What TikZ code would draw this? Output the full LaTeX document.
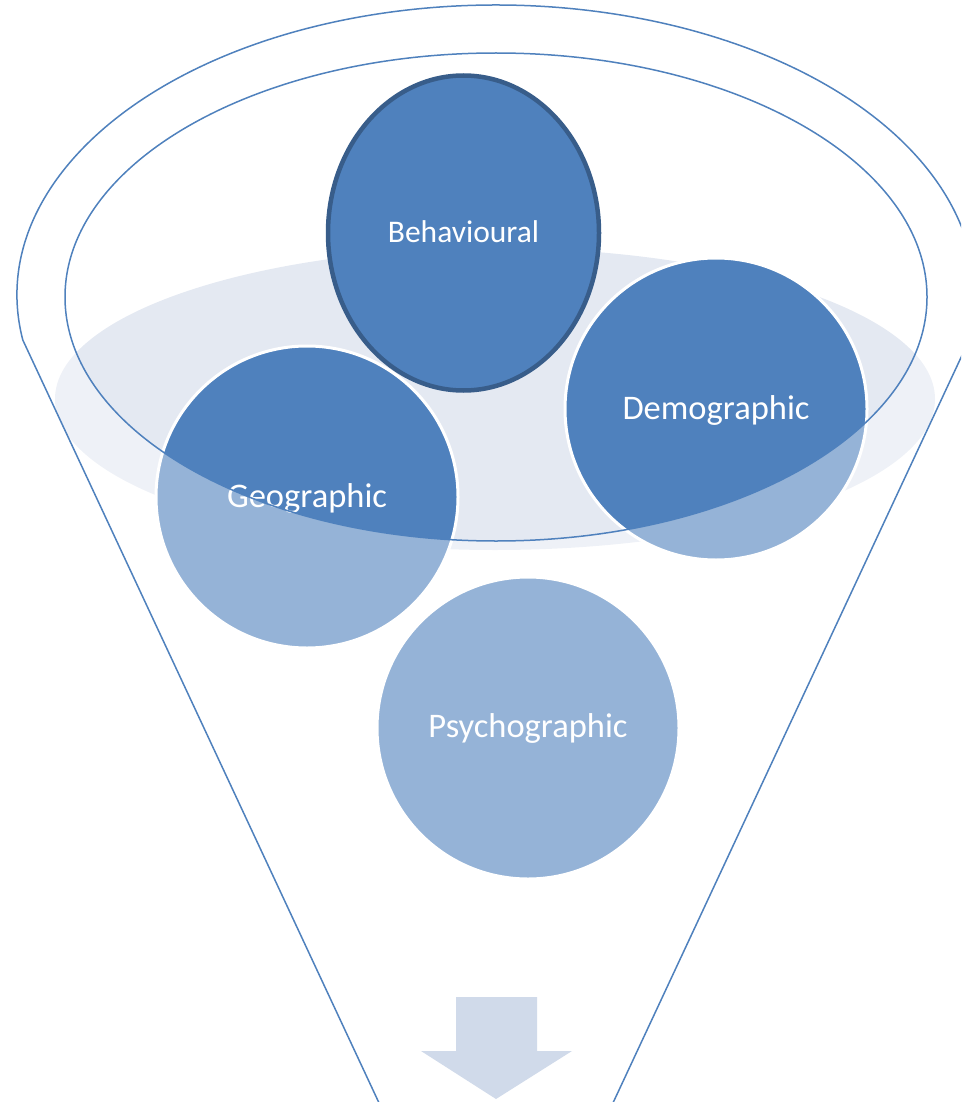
\documentclass[tikz,border=0pt]{standalone}
\usepackage{fontspec}
\setmainfont{Carlito}
\usetikzlibrary{shapes.geometric}
\definecolor{accent}{HTML}{4F81BD}
\definecolor{accentdark}{HTML}{385D8A}
\definecolor{pool}{HTML}{E4E9F2}
\definecolor{arrowfill}{HTML}{D0DAEA}
\begin{document}
\begin{tikzpicture}[x=1pt,y=-1pt,
  segment/.style={circle, fill=accent, draw=white, line width=3pt,
    minimum size=302pt, inner sep=0pt, text=white, text depth=0pt,
    font=\fontsize{34.5}{40}\selectfont},
  outline/.style={draw=accent, line width=1.5pt},
]
\clip (0,0) rectangle (961,1102);

% pale pool inside the funnel
\fill[pool] (495,399) ellipse[x radius=440, y radius=151];

% lower segments
\node[segment, text height=20pt] (geo) at (307,497) {Geographic};
\node[segment, text height=20pt] (demo) at (716,409) {Demographic};
\node[segment, text height=18pt] (psy) at (528,728) {Psychographic};

% everything below the rim is seen paler
\fill[white, fill opacity=0.4, even odd rule]
  (0,0) rectangle (961,1102) (496,297) ellipse[x radius=431, y radius=244];

% top segment
\node[ellipse, fill=accent, draw=accentdark, line width=4.5pt,
  minimum width=271pt, minimum height=315pt, inner sep=0pt, text=white,
  font=\fontsize{31.5}{37}\selectfont, text height=18pt, text depth=0pt]
  (beh) at (463.5,233) {Behavioural};

% funnel rim and body
\draw[outline] (496,297) ellipse[x radius=431, y radius=244];
\draw[outline, line join=miter] (22.8,340)
  arc[start angle=171.07, end angle=368.93, x radius=479, y radius=290]
  -- (591,1150) -- (401,1150) -- cycle;

% output arrow
\fill[arrowfill] (456,997) -- (537,997) -- (537,1051) -- (572,1051)
  -- (496,1099) -- (421,1051) -- (456,1051) -- cycle;
\end{tikzpicture}
\end{document}
